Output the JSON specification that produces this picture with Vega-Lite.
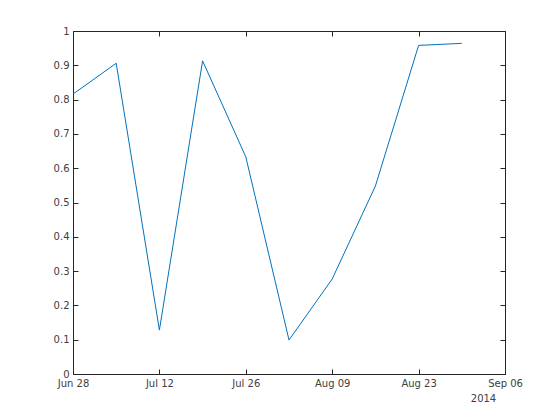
{
  "$schema": "https://vega.github.io/schema/vega-lite/v6.json",
  "width": 432,
  "height": 343,
  "autosize": {"type": "none"},
  "padding": {"left": 73, "top": 31, "right": 55, "bottom": 46},
  "background": "white",
  "config": {
    "view": {"stroke": null},
    "font": "DejaVu Sans",
    "axis": {
      "domainColor": "#262626",
      "tickColor": "#262626",
      "labelColor": "#404040",
      "labelFont": "DejaVu Sans",
      "labelFontSize": 10,
      "grid": false,
      "tickSize": -5,
      "domainWidth": 1,
      "tickWidth": 1
    }
  },
  "data": {
    "values": [
      {"date": "2014-06-28", "value": 0.816},
      {"date": "2014-07-05", "value": 0.906},
      {"date": "2014-07-12", "value": 0.128},
      {"date": "2014-07-19", "value": 0.913},
      {"date": "2014-07-26", "value": 0.633},
      {"date": "2014-08-02", "value": 0.099},
      {"date": "2014-08-09", "value": 0.277},
      {"date": "2014-08-16", "value": 0.548},
      {"date": "2014-08-23", "value": 0.958},
      {"date": "2014-08-30", "value": 0.964}
    ]
  },
  "layer": [
    {
      "mark": {"type": "line", "color": "#0072BD", "strokeWidth": 1},
      "encoding": {
        "x": {
          "field": "date",
          "type": "temporal",
          "scale": {"type": "utc", "domain": [{"year": 2014, "month": 6, "date": 28, "utc": true}, {"year": 2014, "month": 9, "date": 6, "utc": true}]},
          "axis": {
            "orient": "bottom",
            "values": [
              {"year": 2014, "month": 6, "date": 28, "utc": true},
              {"year": 2014, "month": 7, "date": 12, "utc": true},
              {"year": 2014, "month": 7, "date": 26, "utc": true},
              {"year": 2014, "month": 8, "date": 9, "utc": true},
              {"year": 2014, "month": 8, "date": 23, "utc": true},
              {"year": 2014, "month": 9, "date": 6, "utc": true}
            ],
            "labelExpr": "['Jan','Feb','Mar','Apr','May','Jun','Jul','Aug','Sep','Oct','Nov','Dec'][utcmonth(datum.value)] + ' ' + (utcdate(datum.value) < 10 ? '0' : '') + utcdate(datum.value)",
            "labelPadding": 9,
            "labelFlush": false,
            "title": "2014",
            "titleFont": "DejaVu Sans",
            "titleFontSize": 10,
            "titleFontWeight": "normal",
            "titleColor": "#404040",
            "titleAnchor": "end",
            "titleAlign": "center",
            "titleX": 410,
            "titleY": 19
          }
        },
        "y": {
          "field": "value",
          "type": "quantitative",
          "scale": {"domain": [0, 1], "nice": false, "zero": false},
          "axis": {
            "orient": "left",
            "values": [0, 0.1, 0.2, 0.3, 0.4, 0.5, 0.6, 0.7, 0.8, 0.9, 1],
            "format": "~g",
            "labelPadding": 9,
            "title": null
          }
        }
      }
    },
    {
      "mark": {"type": "line", "color": "#0072BD", "strokeWidth": 1, "opacity": 0},
      "encoding": {
        "x": {
          "field": "date",
          "type": "temporal",
          "scale": {"type": "utc", "domain": [{"year": 2014, "month": 6, "date": 28, "utc": true}, {"year": 2014, "month": 9, "date": 6, "utc": true}]},
          "axis": {
            "orient": "top",
            "values": [
              {"year": 2014, "month": 6, "date": 28, "utc": true},
              {"year": 2014, "month": 7, "date": 12, "utc": true},
              {"year": 2014, "month": 7, "date": 26, "utc": true},
              {"year": 2014, "month": 8, "date": 9, "utc": true},
              {"year": 2014, "month": 8, "date": 23, "utc": true},
              {"year": 2014, "month": 9, "date": 6, "utc": true}
            ],
            "labels": false,
            "title": null
          }
        },
        "y": {
          "field": "value",
          "type": "quantitative",
          "scale": {"domain": [0, 1], "nice": false, "zero": false},
          "axis": {
            "orient": "right",
            "values": [0, 0.1, 0.2, 0.3, 0.4, 0.5, 0.6, 0.7, 0.8, 0.9, 1],
            "labels": false,
            "title": null
          }
        }
      }
    }
  ],
  "resolve": {"axis": {"x": "independent", "y": "independent"}}
}
